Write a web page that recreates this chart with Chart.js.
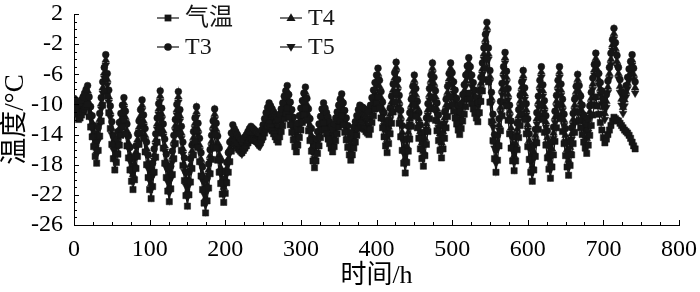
<!DOCTYPE html>
<html>
<head>
<meta charset="utf-8">
<script src="https://cdn.jsdelivr.net/npm/chart.js@4.4.1/dist/chart.umd.min.js"></script>
<style>
  html, body { margin: 0; padding: 0; background: #fff; }
</style>
</head>
<body>
<canvas id="tempChart" width="700" height="292"></canvas>
<script>
// 系列名 / 刻度
const seriesNames = ['气温', 'T3', 'T4', 'T5'];
const xTicks = [0, 100, 200, 300, 400, 500, 600, 700, 800];
const yTicks = [-26, -22, -18, -14, -10, -6, -2, 2];

// 每 2 h 一个点，每行一天 (0,2,...,22 h)
const airTemp = [
  -10.3, -10.6, -11.2, -12.0, -11.8, -11.4, -11.0, -10.7, -10.3, -10.0, -11.6, -13.0,
  -14.3, -15.6, -16.9, -17.8, -16.1, -14.2, -12.2, -10.1, -8.2, -6.5, -8.9, -11.1,
  -13.2, -15.3, -17.2, -18.7, -17.7, -16.6, -15.4, -14.1, -13.0, -12.0, -13.9, -15.5,
  -17.1, -18.7, -20.2, -21.3, -20.0, -18.5, -16.9, -15.3, -13.8, -12.5, -14.5, -16.3,
  -18.0, -19.7, -21.3, -22.5, -20.9, -19.0, -17.0, -15.0, -13.2, -11.5, -13.8, -15.8,
  -17.8, -19.7, -21.5, -22.9, -21.2, -19.3, -17.2, -15.2, -13.2, -11.5, -13.9, -16.1,
  -18.1, -20.1, -22.1, -23.5, -22.0, -20.3, -18.5, -16.7, -15.0, -13.5, -15.7, -17.6,
  -19.5, -21.3, -23.1, -24.4, -22.8, -21.1, -19.2, -17.3, -15.6, -14.0, -15.8, -17.4,
  -19.0, -20.5, -21.9, -23.0, -21.8, -20.4, -19.0, -17.6, -16.2, -15.0, -15.3, -15.5,
  -15.8, -16.0, -16.2, -16.4, -16.1, -15.8, -15.5, -15.1, -14.8, -14.5, -14.6, -14.7,
  -14.8, -14.9, -15.0, -15.1, -14.7, -14.3, -13.8, -13.3, -12.9, -12.5, -13.0, -13.5,
  -13.9, -14.3, -14.7, -15.0, -14.3, -13.6, -12.8, -11.9, -11.2, -10.5, -11.7, -12.7,
  -13.7, -14.7, -15.6, -16.3, -15.4, -14.4, -13.4, -12.4, -11.4, -10.5, -12.1, -13.5,
  -14.8, -16.2, -17.5, -18.4, -17.5, -16.5, -15.5, -14.4, -13.4, -12.5, -13.3, -13.9,
  -14.6, -15.2, -15.8, -16.3, -15.6, -14.8, -13.9, -13.0, -12.2, -11.5, -12.7, -13.7,
  -14.7, -15.7, -16.7, -17.4, -16.7, -15.8, -15.0, -14.1, -13.2, -12.5, -12.8, -13.1,
  -13.3, -13.6, -13.8, -14.0, -13.3, -12.4, -11.5, -10.6, -9.8, -9.0, -10.5, -11.8,
  -13.1, -14.3, -15.5, -16.4, -15.2, -13.9, -12.5, -11.0, -9.7, -8.5, -10.6, -12.5,
  -14.3, -16.1, -17.8, -19.1, -17.7, -16.2, -14.6, -12.9, -11.4, -10.0, -11.6, -13.1,
  -14.5, -15.9, -17.2, -18.2, -16.8, -15.3, -13.6, -11.9, -10.4, -9.0, -10.6, -12.1,
  -13.5, -14.8, -16.1, -17.1, -15.9, -14.5, -13.1, -11.6, -10.2, -9.0, -10.0, -10.9,
  -11.8, -12.6, -13.4, -14.0, -13.2, -12.2, -11.3, -10.3, -9.3, -8.5, -9.3, -9.9,
  -10.6, -11.2, -11.8, -12.3, -11.1, -9.6, -8.2, -6.7, -5.2, -4.0, -7.0, -9.7,
  -12.3, -14.8, -17.2, -19.0, -17.4, -15.5, -13.5, -11.5, -9.7, -8.0, -10.2, -12.1,
  -13.9, -15.8, -17.5, -18.8, -17.5, -16.0, -14.4, -12.8, -11.3, -10.0, -12.0, -13.9,
  -15.6, -17.3, -19.0, -20.2, -18.7, -16.9, -15.1, -13.3, -11.5, -10.0, -12.0, -13.7,
  -15.4, -17.1, -18.6, -19.8, -18.3, -16.7, -14.9, -13.1, -11.5, -10.0, -11.9, -13.6,
  -15.2, -16.8, -18.3, -19.4, -18.1, -16.7, -15.2, -13.7, -12.3, -11.0, -12.1, -13.1,
  -14.0, -15.0, -15.8, -16.5, -15.4, -14.1, -12.8, -11.4, -10.1, -9.0, -10.2, -11.3,
  -12.4, -13.4, -14.4, -15.1, -14.6, -14.0, -13.4, -12.8, -12.2, -11.7, -11.9, -12.1,
  -12.2, -12.5, -12.8, -13.1, -13.4, -13.6, -13.8, -14.1, -14.5, -15.0, -15.5, -15.9
];

const t3 = [
  -9.2, -9.4, -9.7, -10.0, -9.8, -9.4, -9.0, -8.5, -8.0, -7.5, -9.0, -10.3,
  -11.5, -12.8, -13.9, -14.8, -13.1, -11.2, -9.1, -7.0, -5.1, -3.4, -5.9, -8.1,
  -10.2, -12.3, -14.2, -15.7, -14.7, -13.6, -12.4, -11.2, -10.1, -9.1, -10.9, -12.6,
  -14.2, -15.7, -17.2, -18.3, -17.0, -15.5, -13.9, -12.2, -10.7, -9.4, -11.4, -13.2,
  -15.0, -16.7, -18.3, -19.5, -17.8, -15.9, -13.9, -11.8, -9.9, -8.2, -10.5, -12.6,
  -14.6, -16.6, -18.5, -19.9, -18.2, -16.2, -14.1, -12.0, -10.0, -8.3, -10.7, -12.9,
  -15.0, -17.1, -19.0, -20.5, -19.0, -17.2, -15.4, -13.6, -11.8, -10.3, -12.5, -14.5,
  -16.4, -18.3, -20.1, -21.4, -19.8, -17.9, -16.0, -14.1, -12.2, -10.6, -12.5, -14.2,
  -15.8, -17.4, -18.9, -20.0, -18.9, -17.7, -16.4, -15.0, -13.8, -12.7, -13.2, -13.6,
  -14.0, -14.4, -14.7, -15.0, -14.7, -14.3, -14.0, -13.6, -13.2, -12.9, -13.1, -13.3,
  -13.5, -13.7, -13.9, -14.0, -13.4, -12.7, -11.9, -11.1, -10.4, -9.8, -10.2, -10.6,
  -11.0, -11.4, -11.7, -12.0, -11.3, -10.6, -9.8, -8.9, -8.2, -7.5, -8.7, -9.7,
  -10.7, -11.7, -12.6, -13.3, -12.5, -11.5, -10.5, -9.5, -8.5, -7.7, -9.2, -10.6,
  -11.9, -13.2, -14.5, -15.4, -14.6, -13.6, -12.6, -11.6, -10.6, -9.8, -10.5, -11.1,
  -11.7, -12.3, -12.9, -13.3, -12.6, -11.8, -11.0, -10.1, -9.3, -8.6, -9.8, -10.8,
  -11.8, -12.8, -13.7, -14.4, -13.8, -13.0, -12.3, -11.5, -10.7, -10.1, -10.3, -10.4,
  -10.6, -10.7, -10.9, -11.0, -10.1, -9.1, -8.1, -7.1, -6.1, -5.2, -6.8, -8.3,
  -9.7, -11.1, -12.4, -13.4, -12.1, -10.5, -8.9, -7.3, -5.8, -4.4, -6.7, -8.8,
  -10.8, -12.8, -14.7, -16.1, -14.6, -12.9, -11.1, -9.3, -7.6, -6.1, -7.9, -9.6,
  -11.1, -12.7, -14.1, -15.2, -13.6, -11.8, -9.9, -7.9, -6.1, -4.5, -6.4, -8.2,
  -9.8, -11.4, -12.9, -14.1, -12.7, -11.0, -9.3, -7.6, -5.9, -4.5, -5.8, -7.0,
  -8.1, -9.2, -10.2, -11.0, -9.9, -8.7, -7.4, -6.1, -4.9, -3.8, -5.0, -6.1,
  -7.1, -8.1, -9.1, -9.8, -8.2, -6.4, -4.5, -2.5, -0.7, 0.9, -2.5, -5.5,
  -8.4, -11.3, -14.0, -16.0, -14.1, -11.9, -9.6, -7.2, -5.0, -3.1, -5.6, -7.9,
  -10.1, -12.2, -14.3, -15.8, -14.3, -12.5, -10.7, -8.8, -7.0, -5.5, -7.8, -9.9,
  -11.9, -13.9, -15.8, -17.2, -15.4, -13.3, -11.1, -8.9, -6.8, -5.0, -7.4, -9.5,
  -11.5, -13.5, -15.4, -16.8, -15.0, -13.0, -10.9, -8.8, -6.8, -5.0, -7.3, -9.3,
  -11.3, -13.2, -15.0, -16.4, -14.8, -13.1, -11.2, -9.3, -7.6, -6.0, -7.5, -8.9,
  -10.1, -11.4, -12.6, -13.5, -12.0, -10.2, -8.4, -6.5, -4.7, -3.2, -4.6, -5.9,
  -7.1, -8.2, -9.4, -10.2, -8.7, -6.9, -5.1, -3.2, -1.4, 0.1, -1.8, -3.5,
  -5.1, -6.7, -8.3, -9.4, -8.5, -7.5, -6.4, -5.3, -4.3, -3.4, -5.2, -7.0
];

const t4 = [
  -9.9, -10.2, -10.6, -10.9, -10.6, -10.2, -9.8, -9.3, -8.7, -8.2, -9.8, -11.2,
  -12.4, -13.7, -14.9, -15.8, -14.0, -12.0, -9.9, -7.8, -5.8, -4.1, -6.7, -9.0,
  -11.0, -13.2, -15.2, -16.7, -15.6, -14.4, -13.2, -12.0, -10.9, -9.8, -11.7, -13.5,
  -15.1, -16.7, -18.2, -19.3, -17.9, -16.3, -14.7, -13.0, -11.5, -10.1, -12.2, -14.1,
  -15.9, -17.7, -19.3, -20.5, -18.7, -16.7, -14.7, -12.6, -10.6, -8.9, -11.3, -13.5,
  -15.5, -17.6, -19.5, -20.9, -19.1, -17.0, -14.9, -12.8, -10.7, -9.0, -11.5, -13.8,
  -15.9, -18.1, -20.0, -21.5, -19.9, -18.0, -16.2, -14.4, -12.5, -11.0, -13.3, -15.4,
  -17.3, -19.3, -21.1, -22.4, -20.7, -18.7, -16.8, -14.9, -12.9, -11.3, -13.3, -15.1,
  -16.7, -18.4, -19.9, -21.0, -19.8, -18.5, -17.2, -15.8, -14.5, -13.4, -14.0, -14.4,
  -14.8, -15.3, -15.6, -15.9, -15.6, -15.1, -14.8, -14.4, -13.9, -13.6, -13.9, -14.1,
  -14.3, -14.6, -14.8, -14.9, -14.3, -13.5, -12.7, -11.9, -11.1, -10.5, -11.0, -11.4,
  -11.8, -12.3, -12.6, -12.9, -12.2, -11.4, -10.6, -9.7, -8.9, -8.2, -9.5, -10.5,
  -11.5, -12.6, -13.6, -14.3, -13.4, -12.3, -11.3, -10.3, -9.2, -8.4, -10.0, -11.4,
  -12.7, -14.1, -15.5, -16.4, -15.5, -14.4, -13.4, -12.4, -11.3, -10.5, -11.3, -11.9,
  -12.5, -13.2, -13.9, -14.3, -13.5, -12.6, -11.8, -10.9, -10.0, -9.3, -10.6, -11.6,
  -12.6, -13.7, -14.7, -15.4, -14.7, -13.8, -13.1, -12.3, -11.4, -10.8, -11.1, -11.2,
  -11.4, -11.6, -11.9, -12.0, -11.0, -9.9, -8.9, -7.9, -6.8, -5.9, -7.6, -9.1,
  -10.5, -12.0, -13.4, -14.4, -13.0, -11.3, -9.7, -8.1, -6.5, -5.1, -7.5, -9.6,
  -11.6, -13.7, -15.7, -17.1, -15.5, -13.7, -11.9, -10.1, -8.3, -6.8, -8.7, -10.4,
  -11.9, -13.6, -15.1, -16.2, -14.5, -12.6, -10.7, -8.7, -6.8, -5.2, -7.2, -9.0,
  -10.6, -12.3, -13.9, -15.1, -13.6, -11.8, -10.1, -8.4, -6.6, -5.2, -6.6, -7.8,
  -8.9, -10.1, -11.2, -12.0, -10.8, -9.5, -8.2, -6.9, -5.6, -4.5, -5.8, -6.9,
  -7.9, -9.0, -10.1, -10.8, -9.1, -7.2, -5.3, -3.3, -1.4, 0.2, -3.3, -6.3,
  -9.2, -12.2, -15.0, -17.0, -15.0, -12.7, -10.4, -8.0, -5.7, -3.8, -6.4, -8.7,
  -10.9, -13.1, -15.3, -16.8, -15.2, -13.3, -11.5, -9.6, -7.7, -6.2, -8.6, -10.7,
  -12.7, -14.8, -16.8, -18.2, -16.3, -14.1, -11.9, -9.7, -7.5, -5.7, -8.2, -10.3,
  -12.3, -14.4, -16.4, -17.8, -15.9, -13.8, -11.7, -9.6, -7.5, -5.7, -8.1, -10.1,
  -12.1, -14.1, -16.0, -17.4, -15.7, -13.9, -12.0, -10.1, -8.3, -6.7, -8.3, -9.7,
  -10.9, -12.3, -13.6, -14.5, -12.9, -11.0, -9.2, -7.3, -5.4, -3.9, -5.4, -6.7,
  -7.9, -9.1, -10.4, -11.2, -9.6, -7.7, -5.9, -4.0, -2.1, -0.6, -2.6, -4.3,
  -5.9, -7.6, -9.3, -10.4, -9.4, -8.3, -7.2, -6.1, -5.0, -4.1, -6.0, -7.8
];

const t5 = [
  -10.6, -10.9, -11.4, -11.7, -11.4, -10.9, -10.5, -10.0, -9.4, -8.9, -10.5, -11.9,
  -13.2, -14.5, -15.7, -16.6, -14.8, -12.7, -10.6, -8.5, -6.5, -4.8, -7.4, -9.7,
  -11.7, -14.0, -16.0, -17.5, -16.4, -15.1, -13.9, -12.7, -11.6, -10.5, -12.4, -14.2,
  -15.8, -17.5, -19.0, -20.1, -18.7, -17.0, -15.4, -13.7, -12.2, -10.8, -12.9, -14.8,
  -16.6, -18.5, -20.1, -21.3, -19.5, -17.4, -15.4, -13.3, -11.3, -9.6, -12.0, -14.2,
  -16.2, -18.4, -20.3, -21.7, -19.9, -17.7, -15.6, -13.5, -11.4, -9.7, -12.2, -14.5,
  -16.6, -18.9, -20.8, -22.3, -20.7, -18.7, -16.9, -15.1, -13.2, -11.7, -14.0, -16.1,
  -18.0, -20.1, -21.9, -23.2, -21.5, -19.4, -17.5, -15.6, -13.6, -12.0, -14.0, -15.8,
  -17.4, -19.2, -20.7, -21.8, -20.6, -19.2, -17.9, -16.5, -15.2, -14.1, -14.7, -15.1,
  -15.5, -16.0, -16.4, -16.6, -16.3, -15.8, -15.5, -15.1, -14.6, -14.3, -14.6, -14.8,
  -15.0, -15.3, -15.5, -15.6, -15.0, -14.2, -13.4, -12.6, -11.8, -11.2, -11.7, -12.1,
  -12.5, -13.0, -13.3, -13.6, -12.9, -12.1, -11.3, -10.4, -9.6, -8.9, -10.2, -11.2,
  -12.2, -13.3, -14.4, -15.1, -14.2, -13.0, -12.0, -11.0, -9.9, -9.1, -10.7, -12.1,
  -13.4, -14.9, -16.3, -17.2, -16.3, -15.1, -14.1, -13.1, -12.0, -11.2, -12.0, -12.6,
  -13.2, -14.0, -14.7, -15.1, -14.3, -13.3, -12.5, -11.6, -10.7, -10.0, -11.3, -12.3,
  -13.3, -14.5, -15.5, -16.2, -15.5, -14.5, -13.8, -13.0, -12.1, -11.5, -11.8, -11.9,
  -12.1, -12.3, -12.7, -12.8, -11.8, -10.6, -9.6, -8.6, -7.5, -6.6, -8.3, -9.8,
  -11.2, -12.8, -14.2, -15.2, -13.8, -12.0, -10.4, -8.8, -7.2, -5.8, -8.2, -10.3,
  -12.3, -14.5, -16.5, -17.9, -16.3, -14.4, -12.6, -10.8, -9.0, -7.5, -9.4, -11.1,
  -12.6, -14.4, -15.9, -17.0, -15.3, -13.3, -11.4, -9.4, -7.5, -5.9, -7.9, -9.7,
  -11.3, -13.1, -14.7, -15.9, -14.4, -12.5, -10.8, -9.1, -7.3, -5.9, -7.3, -8.5,
  -9.6, -10.9, -12.0, -12.8, -11.6, -10.2, -8.9, -7.6, -6.3, -5.2, -6.5, -7.6,
  -8.6, -9.8, -10.9, -11.6, -9.9, -7.9, -6.0, -4.0, -2.1, -0.5, -4.0, -7.0,
  -9.9, -13.0, -15.8, -17.8, -15.8, -13.4, -11.1, -8.7, -6.4, -4.5, -7.1, -9.4,
  -11.6, -13.9, -16.1, -17.6, -16.0, -14.0, -12.2, -10.3, -8.4, -6.9, -9.3, -11.4,
  -13.4, -15.6, -17.6, -19.0, -17.1, -14.8, -12.6, -10.4, -8.2, -6.4, -8.9, -11.0,
  -13.0, -15.2, -17.2, -18.6, -16.7, -14.5, -12.4, -10.3, -8.2, -6.4, -8.8, -10.8,
  -12.8, -14.9, -16.8, -18.2, -16.5, -14.6, -12.7, -10.8, -9.0, -7.4, -9.0, -10.4,
  -11.6, -13.1, -14.4, -15.3, -13.7, -11.7, -9.9, -8.0, -6.1, -4.6, -6.1, -7.4,
  -8.6, -9.9, -11.2, -12.0, -10.4, -8.4, -6.6, -4.7, -2.8, -1.3, -3.3, -5.0,
  -6.6, -8.4, -10.1, -11.2, -10.2, -9.0, -7.9, -6.8, -5.7, -4.8, -6.7, -8.5
];

// 时间轴 (h)
const hours = airTemp.map((_, i) => i * 2);

const FONT = '"Liberation Serif", "Noto Sans CJK SC", serif';
const INK = '#161616';

const pointStyles = ['rect', 'circle', 'triangle', 'triangle'];
const pointRot = [0, 0, 0, 180];
const pointSize = [4.4, 3.4, 4.4, 4.4];

const seriesValues = [airTemp, t3, t4, t5];
const datasets = seriesValues.map((vals, k) => ({
  label: seriesNames[k],
  data: vals.map((v, i) => ({ x: hours[i], y: v })),
  borderColor: INK,
  backgroundColor: INK,
  borderWidth: 1.2,
  pointStyle: pointStyles[k],
  rotation: pointRot[k],
  pointRadius: pointSize[k],
  pointBorderWidth: 0.5,
  tension: 0
}));

// 图例 (两列)
const legendPos = [
  { x: 157, y: 18 },
  { x: 157, y: 47 },
  { x: 280, y: 18 },
  { x: 280, y: 47 }
];

function marker(ctx, style, rot, r, cx, cy) {
  ctx.beginPath();
  if (style === 'rect') {
    const s = r * Math.SQRT1_2;
    ctx.rect(cx - s, cy - s, 2 * s, 2 * s);
  } else if (style === 'circle') {
    ctx.arc(cx, cy, r, 0, Math.PI * 2);
  } else {
    const dir = rot === 180 ? -1 : 1;
    ctx.moveTo(cx, cy - dir * r);
    ctx.lineTo(cx + r * 0.95, cy + dir * r * 0.6);
    ctx.lineTo(cx - r * 0.95, cy + dir * r * 0.6);
    ctx.closePath();
  }
  ctx.fill();
}

const legendPlugin = {
  id: 'twoColLegend',
  afterDraw(chart) {
    const ctx = chart.ctx;
    ctx.save();
    ctx.strokeStyle = INK;
    ctx.fillStyle = INK;
    ctx.lineWidth = 1.2;
    ctx.font = '24px ' + FONT;
    ctx.textBaseline = 'middle';
    legendPos.forEach((p, k) => {
      ctx.beginPath();
      ctx.moveTo(p.x, p.y);
      ctx.lineTo(p.x + 22, p.y);
      ctx.stroke();
      marker(ctx, pointStyles[k], pointRot[k], pointSize[k] + 0.4, p.x + 11, p.y);
      ctx.fillText(seriesNames[k], p.x + 28, p.y + 1);
    });
    ctx.restore();
  }
};

// 向内的主/次刻度
const tickPlugin = {
  id: 'inTicks',
  afterDraw(chart) {
    const { ctx, chartArea, scales } = chart;
    const { left, bottom } = chartArea;
    ctx.save();
    ctx.strokeStyle = '#000';
    ctx.lineWidth = 1;
    ctx.beginPath();
    for (let v = 0; v <= 800; v += 25) {
      const px = Math.round(scales.x.getPixelForValue(v)) + 0.5;
      const len = v % 100 === 0 ? 5 : 3;
      ctx.moveTo(px, bottom);
      ctx.lineTo(px, bottom - len);
    }
    for (let v = -26; v <= 2; v += 1) {
      const py = Math.round(scales.y.getPixelForValue(v)) + 0.5;
      const len = (v + 26) % 4 === 0 ? 5 : 3;
      ctx.moveTo(left, py);
      ctx.lineTo(left + len, py);
    }
    ctx.stroke();
    ctx.restore();
  }
};

new Chart(document.getElementById('tempChart').getContext('2d'), {
  type: 'line',
  data: { datasets },
  options: {
    responsive: false,
    animation: false,
    devicePixelRatio: 1,
    layout: { padding: { top: 14, right: 21, left: 0, bottom: 0 } },
    plugins: {
      legend: { display: false },
      tooltip: { enabled: false }
    },
    scales: {
      x: {
        type: 'linear',
        min: 0,
        max: 800,
        afterBuildTicks: s => { s.ticks = xTicks.map(v => ({ value: v })); },
        afterFit: s => { s.height = 67; s.paddingLeft = 0; s.paddingRight = 0; },
        grid: { display: false, drawTicks: false },
        border: { display: true, color: '#000', width: 1 },
        ticks: { color: '#000', font: { family: FONT, size: 24 }, padding: 10, maxRotation: 0, autoSkip: false },
        title: { display: true, text: '时间/h', color: '#000', font: { family: FONT, size: 26 }, padding: { top: 0, bottom: 0 } }
      },
      y: {
        min: -26,
        max: 2,
        afterBuildTicks: s => { s.ticks = yTicks.map(v => ({ value: v })); },
        afterFit: s => { s.width = 74; s.paddingTop = 0; s.paddingBottom = 0; },
        grid: { display: false, drawTicks: false },
        border: { display: true, color: '#000', width: 1 },
        ticks: { color: '#000', font: { family: FONT, size: 24 }, padding: 11, autoSkip: false },
        title: { display: true, text: '温度/°C', color: '#000', font: { family: FONT, size: 27 }, padding: { top: 0, bottom: 0 } }
      }
    }
  },
  plugins: [tickPlugin, legendPlugin]
});
</script>
</body>
</html>
